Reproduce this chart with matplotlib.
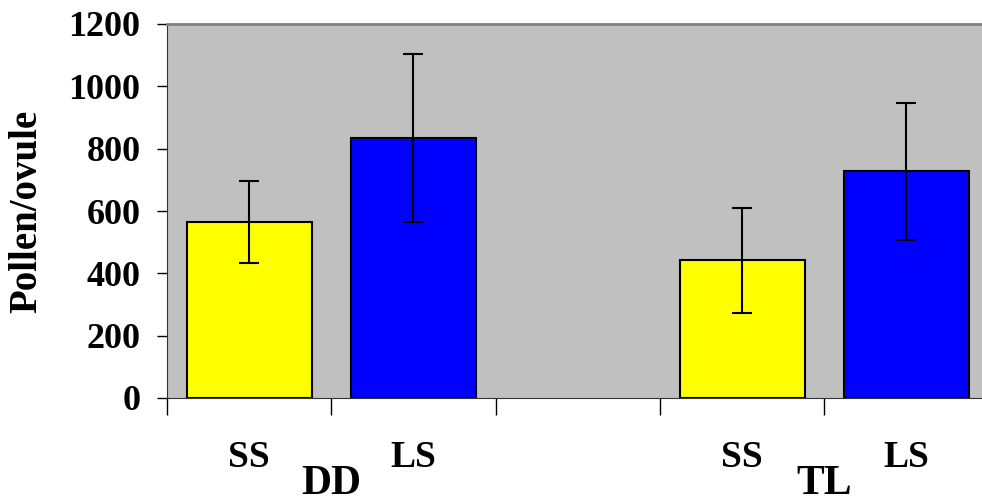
import numpy as np
import matplotlib
matplotlib.use('Agg')
from matplotlib import pyplot as plt

# data
slots = [0, 1, 3, 4]
species = ['SS', 'LS', 'SS', 'LS']
pollen_ovule = [565, 834, 442, 728]
errors = [131, 270, 168, 220]
bar_colors = ['#ffff00', '#0000ff', '#ffff00', '#0000ff']
groups = ['DD', 'TL']
group_pos = [1.0, 4.0]

plt.rcParams['font.family'] = ['Liberation Serif', 'DejaVu Serif']
plt.rcParams['font.weight'] = 'bold'

fig = plt.figure(figsize=(9.82, 5.01), dpi=100)
ax = fig.add_axes([167 / 982, 1 - 398 / 501, 1 - 167 / 982, 374 / 501])
ax.set_facecolor('#c0c0c0')

ax.bar(slots, pollen_ovule, width=0.76, color=bar_colors,
       edgecolor='black', linewidth=1.5, zorder=2)
ax.errorbar(slots, pollen_ovule, yerr=errors, fmt='none', ecolor='black',
            elinewidth=1.5, capsize=7.5, capthick=1.5, zorder=3)

ax.set_ylim(0, 1200)
ax.set_xlim(-0.5, 4.46)
ax.set_yticks(np.arange(0, 1201, 200))
ax.tick_params(axis='y', labelsize=26, length=7, width=1, direction='out', pad=12)
ax.set_xticks([-0.5, 0.5, 1.5, 2.5, 3.5])
ax.set_xticklabels([])
ax.tick_params(axis='x', length=12, width=1, direction='out')
for lbl in ax.get_yticklabels():
    lbl.set_fontweight('bold')

ax.spines['right'].set_visible(False)
ax.spines['top'].set_color('#808080')
ax.spines['top'].set_linewidth(2)
ax.spines['left'].set_color('#333333')
ax.spines['bottom'].set_color('#333333')

for x, name in zip(slots, species):
    ax.text(x, -190, name, ha='center', va='center', fontsize=27,
            fontweight='bold')
for x, name in zip(group_pos, groups):
    ax.text(x - 0.5, -275, name, ha='center', va='center', fontsize=30,
            fontweight='bold')

ax.set_ylabel('Pollen/ovule', fontsize=28, fontweight='bold')
ax.yaxis.set_label_coords(-(167 - 45) / 815, 0.5)

plt.savefig('out.png', dpi=100)
